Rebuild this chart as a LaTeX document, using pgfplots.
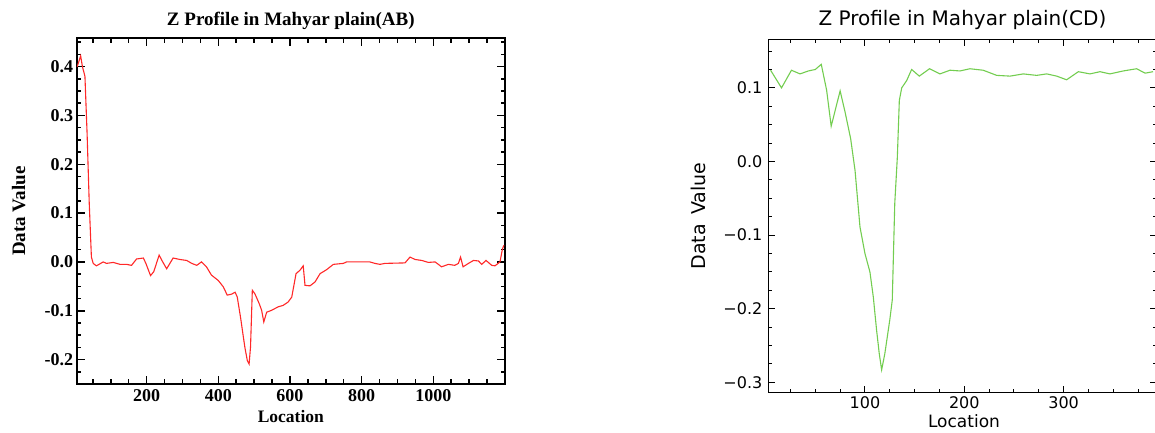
\documentclass[border=0pt]{standalone}
\usepackage{fontspec}
\setmainfont{Liberation Serif}
\newfontfamily\hershey{DejaVu Sans}
\usepackage{pgfplots}
\pgfplotsset{compat=1.18}
\usepackage{pgfplotstable}

\definecolor{idlred}{RGB}{255,40,40}
\definecolor{idlgreen}{RGB}{115,205,80}

% profile AB (location, value)
\pgfplotstableread{
x y
6.5 0.400
16 0.422
21 0.400
28 0.380
34 0.263
40 0.120
46 0.010
51 -0.003
60 -0.008
79 0.000
88 -0.003
107 -0.001
126 -0.005
144 -0.005
158 -0.007
172 0.006
191 0.008
198 -0.003
211 -0.028
220 -0.020
235 0.014
245 0.000
256 -0.014
274 0.008
293 0.005
312 0.003
326 -0.003
340 -0.007
353 0.000
367 -0.010
381 -0.027
400 -0.038
414 -0.051
425 -0.068
437 -0.066
447 -0.062
453 -0.072
462 -0.113
474 -0.174
481 -0.202
486 -0.209
490 -0.174
495 -0.058
502 -0.065
514 -0.085
521 -0.099
527 -0.123
535 -0.103
549 -0.099
567 -0.092
581 -0.089
595 -0.082
605 -0.072
617 -0.024
628 -0.017
637 -0.008
642 -0.048
656 -0.049
670 -0.041
684 -0.024
702 -0.016
721 -0.005
749 -0.003
758 0.000
823 0.000
837 -0.003
851 -0.005
865 -0.003
921 -0.002
935 0.010
949 0.005
968 0.003
986 -0.001
1005 0.000
1023 -0.010
1042 -0.005
1060 -0.007
1070 -0.003
1076 0.010
1083 -0.010
1098 -0.003
1112 0.003
1126 0.002
1135 -0.005
1147 0.003
1163 -0.007
1172 -0.008
1186 0.000
1193 0.027
1197 0.034
}\profileAB

% profile CD (location, value)
\pgfplotstableread{
x y
5 0.124
16 0.100
26 0.124
34.6 0.119
43 0.123
50 0.125
56 0.132
61.4 0.097
66 0.048
75 0.096
80 0.067
85.6 0.031
90 -0.012
95 -0.089
100 -0.125
105 -0.150
108.4 -0.184
111.7 -0.229
114.4 -0.261
116.8 -0.283
120 -0.261
125 -0.215
127.5 -0.188
130 -0.057
132.6 0.006
134.6 0.083
137 0.100
142 0.110
147 0.125
154.7 0.116
165 0.126
175.5 0.119
185.6 0.124
195.6 0.123
205.7 0.126
219 0.124
232.6 0.117
246 0.116
259.4 0.119
272.8 0.117
283 0.119
293 0.116
303 0.111
314.8 0.122
326.5 0.119
336.6 0.122
346.6 0.119
360 0.123
373.5 0.126
382 0.120
390 0.122
}\profileCD

\begin{document}
\begin{tikzpicture}
\useasboundingbox (0,0) rectangle (1155pt,433pt);

% left panel
\begin{axis}[
    at={(76.7pt,49pt)}, anchor=south west,
    scale only axis, width=428.3pt, height=345.7pt,
    xmin=5, xmax=1200, ymin=-0.25, ymax=0.458,
    xtick={200,400,600,800,1000},
    xticklabels={200,400,600,800,1000},
    minor xtick={50,100,...,1150},
    ytick={-0.2,-0.1,0,0.1,0.2,0.3,0.4},
    yticklabels={-0.2,-0.1,0.0,0.1,0.2,0.3,0.4},
    minor ytick={-0.225,-0.2,...,0.45},
    tick align=inside,
    major tick length=8pt, minor tick length=4.5pt,
    axis line style={line width=1.6pt},
    every tick/.style={black, line width=1.5pt},
    tick label style={font=\bfseries\fontsize{18}{18}\selectfont},
    xticklabel style={yshift=-2pt},
    title={Z Profile in Mahyar plain(AB)},
    title style={at={(axis description cs:0.5,1.0203)}, anchor=base,
        font=\bfseries\fontsize{19}{19}\selectfont},
    xlabel={Location},
    xlabel style={at={(axis description cs:0.5,-0.1128)}, anchor=base,
        font=\bfseries\fontsize{17.5}{17.5}\selectfont},
    ylabel={Data Value},
    ylabel style={at={(axis description cs:-0.1207,0.5)}, anchor=base,
        font=\bfseries\fontsize{19}{19}\selectfont},
]
\addplot[idlred, line width=1.1pt, no marks] table[x=x, y=y] {\profileAB};
\end{axis}

% right panel
\begin{axis}[
    at={(768.3pt,40.3pt)}, anchor=south west,
    scale only axis, width=388.2pt, height=353.4pt,
    xmin=2.7, xmax=393.5, ymin=-0.314, ymax=0.166,
    xtick={100,200,300},
    xticklabels={100,200,300},
    minor xtick={25,50,...,375},
    ytick={-0.3,-0.2,-0.1,0,0.1},
    yticklabels={−0.3,−0.2,−0.1,0.0,0.1},
    minor ytick={-0.3,-0.275,...,0.15},
    tick align=inside,
    major tick length=7pt, minor tick length=4pt,
    axis line style={line width=1pt},
    every tick/.style={black, line width=1pt},
    tick label style={font=\hershey\fontsize{16}{16}\selectfont},
    yticklabel style={xshift=-2.5pt},
    title={Z Profile in Mahyar plain(CD)},
    title style={at={(axis description cs:0.5,1.0207)}, anchor=base,
        font=\hershey\fontsize{20}{20}\selectfont},
    xlabel={Location},
    xlabel style={at={(axis description cs:0.504,-0.0985)}, anchor=base,
        font=\hershey\fontsize{17}{17}\selectfont},
    ylabel={Data\hspace{0.5em}Value},
    ylabel style={at={(axis description cs:-0.163,0.5)}, anchor=base,
        font=\hershey\fontsize{19}{19}\selectfont},
]
\addplot[idlgreen, line width=1.1pt, no marks] table[x=x, y=y] {\profileCD};
\end{axis}
\end{tikzpicture}
\end{document}
